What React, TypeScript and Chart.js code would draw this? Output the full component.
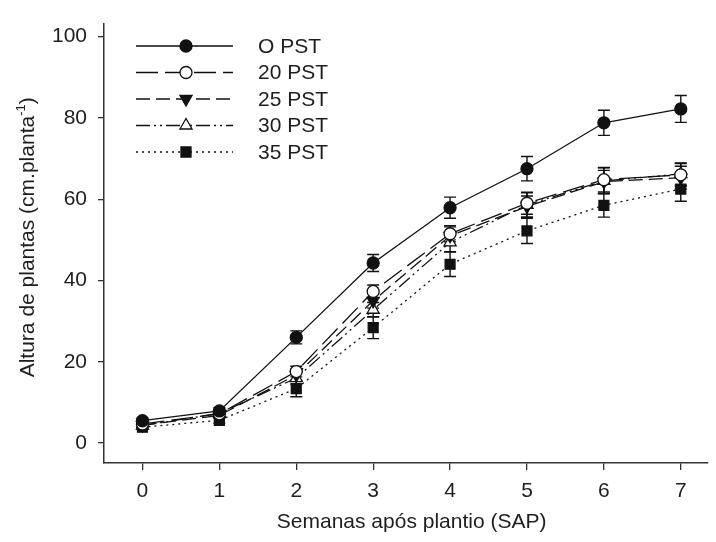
import { useEffect, useRef } from "react";
import { Chart, registerables } from "chart.js";

Chart.register(...registerables);

// ---- data ----
const weeks = [0, 1, 2, 3, 4, 5, 6, 7];
const seriesNames = ["O PST", "20 PST", "25 PST", "30 PST", "35 PST"];

const pst0 = [5.5, 7.9, 26.0, 44.3, 57.9, 67.5, 78.8, 82.2];
const pst0Err = [0.6, 0.8, 1.6, 2.1, 2.6, 3.0, 3.1, 3.3];
const pst20 = [4.7, 7.2, 17.6, 37.3, 51.5, 59.0, 64.8, 66.0];
const pst20Err = [0.5, 0.8, 1.3, 1.6, 2.0, 2.7, 3.0, 2.8];
const pst25 = [4.4, 6.8, 16.8, 35.0, 51.0, 58.2, 64.3, 65.3];
const pst25Err = [0.5, 0.7, 1.4, 1.8, 2.2, 2.6, 2.8, 2.8];
const pst30 = [4.3, 7.3, 16.0, 32.8, 49.4, 58.6, 64.5, 66.2];
const pst30Err = [0.5, 0.8, 1.5, 1.8, 2.3, 3.0, 3.2, 2.7];
const pst35 = [3.9, 5.6, 13.4, 28.4, 44.0, 52.2, 58.5, 62.5];
const pst35Err = [0.5, 0.7, 2.0, 2.7, 3.0, 3.1, 2.9, 3.0];

const xTicks = [0, 1, 2, 3, 4, 5, 6, 7];
const yTicks = [0, 20, 40, 60, 80, 100];

const xTitle = "Semanas após plantio (SAP)";
const yTitleMain = "Altura de plantas (cm.planta";
const yTitleSup = "-1";
const yTitleTail = ")";

// ---- styles ----
const FONT = '"Liberation Sans", Arial, Helvetica, sans-serif';
const INK = "#111111";
const AXIS = "#333333";
const TEXT = "#1e1e1e";

type Marker = "dot" | "ring" | "tdown" | "tup" | "square";
const markers: Marker[] = ["dot", "ring", "tdown", "tup", "square"];
const dashes: number[][] = [[], [22, 7], [14, 6], [14, 4, 2, 4, 2, 4], [2, 4]];
const allValues = [pst0, pst20, pst25, pst30, pst35];
const allErrors = [pst0Err, pst20Err, pst25Err, pst30Err, pst35Err];

function drawMarker(ctx: CanvasRenderingContext2D, m: Marker, x: number, y: number) {
  ctx.save();
  ctx.lineWidth = 1.3;
  ctx.strokeStyle = INK;
  ctx.fillStyle = INK;
  ctx.setLineDash([]);
  ctx.beginPath();
  if (m === "dot" || m === "ring") {
    ctx.arc(x, y, 6, 0, Math.PI * 2);
    if (m === "ring") ctx.fillStyle = "#ffffff";
    ctx.fill();
    ctx.stroke();
  } else if (m === "tdown" || m === "tup") {
    const r = 7;
    const s = m === "tup" ? -1 : 1;
    ctx.moveTo(x, y + s * r);
    ctx.lineTo(x + r * 0.866, y - s * r * 0.5);
    ctx.lineTo(x - r * 0.866, y - s * r * 0.5);
    ctx.closePath();
    if (m === "tup") ctx.fillStyle = "#ffffff";
    ctx.fill();
    ctx.stroke();
  } else {
    const h = 5;
    ctx.rect(x - h, y - h, 2 * h, 2 * h);
    ctx.fill();
    ctx.stroke();
  }
  ctx.restore();
}

const errorBarPlugin = {
  id: "errorBars",
  beforeDatasetsDraw(chart: any) {
    const ctx: CanvasRenderingContext2D = chart.ctx;
    const xs = chart.scales.x;
    const ys = chart.scales.y;
    ctx.save();
    ctx.strokeStyle = INK;
    ctx.lineWidth = 1.4;
    ctx.setLineDash([]);
    chart.data.datasets.forEach((ds: any) => {
      const errs: number[] = ds.errors || [];
      ds.data.forEach((p: any, j: number) => {
        const e = errs[j];
        if (!e) return;
        const x = xs.getPixelForValue(p.x);
        const yt = ys.getPixelForValue(p.y + e);
        const yb = ys.getPixelForValue(p.y - e);
        ctx.beginPath();
        ctx.moveTo(x, yt);
        ctx.lineTo(x, yb);
        ctx.moveTo(x - 6, yt);
        ctx.lineTo(x + 6, yt);
        ctx.moveTo(x - 6, yb);
        ctx.lineTo(x + 6, yb);
        ctx.stroke();
      });
    });
    ctx.restore();
  },
};

const decorPlugin = {
  id: "decor",
  afterDraw(chart: any) {
    const ctx: CanvasRenderingContext2D = chart.ctx;
    const xs = chart.scales.x;
    const area = chart.chartArea;
    ctx.save();
    // legend
    const rowY0 = 46;
    const rowStep = 26.5;
    chart.data.datasets.forEach((ds: any, i: number) => {
      const y = rowY0 + i * rowStep;
      ctx.save();
      ctx.strokeStyle = INK;
      ctx.lineWidth = 1.3;
      ctx.setLineDash(ds.borderDash || []);
      ctx.beginPath();
      ctx.moveTo(136, y);
      ctx.lineTo(233, y);
      ctx.stroke();
      ctx.restore();
      drawMarker(ctx, markers[i], 186, y);
      ctx.fillStyle = TEXT;
      ctx.font = `21px ${FONT}`;
      ctx.textAlign = "left";
      ctx.textBaseline = "middle";
      ctx.fillText(ds.label, 258, y + 1);
    });
    // x title
    const cx = (xs.getPixelForValue(xTicks[0]) + xs.getPixelForValue(xTicks[xTicks.length - 1])) / 2;
    ctx.fillStyle = TEXT;
    ctx.font = `21px ${FONT}`;
    ctx.textAlign = "center";
    ctx.textBaseline = "middle";
    ctx.fillText(xTitle, cx, 522);
    // y title (rotated with superscript)
    const cy = (area.top + area.bottom) / 2 - 6;
    ctx.translate(27, cy);
    ctx.rotate(-Math.PI / 2);
    ctx.font = `21px ${FONT}`;
    const w1 = ctx.measureText(yTitleMain).width;
    const w3 = ctx.measureText(yTitleTail).width;
    ctx.font = `13px ${FONT}`;
    const w2 = ctx.measureText(yTitleSup).width;
    let sx = -(w1 + w2 + w3) / 2;
    ctx.textAlign = "left";
    ctx.textBaseline = "alphabetic";
    ctx.font = `21px ${FONT}`;
    ctx.fillText(yTitleMain, sx, 7);
    sx += w1;
    ctx.font = `13px ${FONT}`;
    ctx.fillText(yTitleSup, sx, -2);
    sx += w2;
    ctx.font = `21px ${FONT}`;
    ctx.fillText(yTitleTail, sx, 7);
    ctx.restore();
  },
};

export default function App() {
  const ref = useRef<HTMLCanvasElement | null>(null);

  useEffect(() => {
    if (!ref.current) return;
    const pointStyles = ["circle", "circle", "triangle", "triangle", "rect"];
    const pointFills = [INK, "#ffffff", INK, "#ffffff", INK];
    const pointRadii = [6, 6, 7, 7, 7];
    const rotations = [0, 0, 180, 0, 0];

    const datasets = seriesNames.map((name, i) => ({
      label: name,
      data: weeks.map((w, j) => ({ x: w, y: allValues[i][j] })),
      errors: allErrors[i],
      borderColor: INK,
      borderWidth: 1.3,
      borderDash: dashes[i],
      pointStyle: pointStyles[i],
      pointRadius: pointRadii[i],
      pointRotation: rotations[i],
      pointBackgroundColor: pointFills[i],
      pointBorderColor: INK,
      pointBorderWidth: 1.3,
      fill: false,
      tension: 0,
    }));

    const chart = new Chart(ref.current, {
      type: "line",
      data: { datasets: datasets as any },
      options: {
        animation: false,
        responsive: true,
        maintainAspectRatio: false,
        layout: { padding: { top: 22, right: 0, left: 0, bottom: 0 } },
        plugins: { legend: { display: false }, tooltip: { enabled: false } },
        scales: {
          x: {
            type: "linear",
            min: -0.5,
            max: 7.35,
            afterBuildTicks: (s: any) => {
              s.ticks = xTicks.map((v) => ({ value: v }));
            },
            afterFit: (s: any) => {
              s.height = 79;
            },
            ticks: {
              color: TEXT,
              font: { family: FONT, size: 21 },
              padding: 9,
              maxRotation: 0,
              autoSkip: false,
              callback: (v: any) => String(v),
            },
            grid: {
              drawOnChartArea: false,
              drawTicks: true,
              tickLength: 7,
              color: AXIS,
              lineWidth: 1.3,
            },
            border: { display: true, color: AXIS, width: 1.5 },
          },
          y: {
            type: "linear",
            min: -4.9,
            max: 103.2,
            afterBuildTicks: (s: any) => {
              s.ticks = yTicks.map((v) => ({ value: v }));
            },
            afterFit: (s: any) => {
              s.width = 104;
            },
            ticks: {
              color: TEXT,
              font: { family: FONT, size: 21 },
              padding: 11,
              autoSkip: false,
              callback: (v: any) => String(v),
            },
            grid: {
              drawOnChartArea: false,
              drawTicks: true,
              tickLength: 6,
              color: AXIS,
              lineWidth: 1.3,
            },
            border: { display: true, color: AXIS, width: 1.5 },
          },
        },
      },
      plugins: [errorBarPlugin, decorPlugin],
    });
    return () => chart.destroy();
  }, []);

  return (
    <div style={{ position: "fixed", left: 0, top: 0, width: 716, height: 542, background: "#ffffff" }}>
      <canvas ref={ref} />
    </div>
  );
}
